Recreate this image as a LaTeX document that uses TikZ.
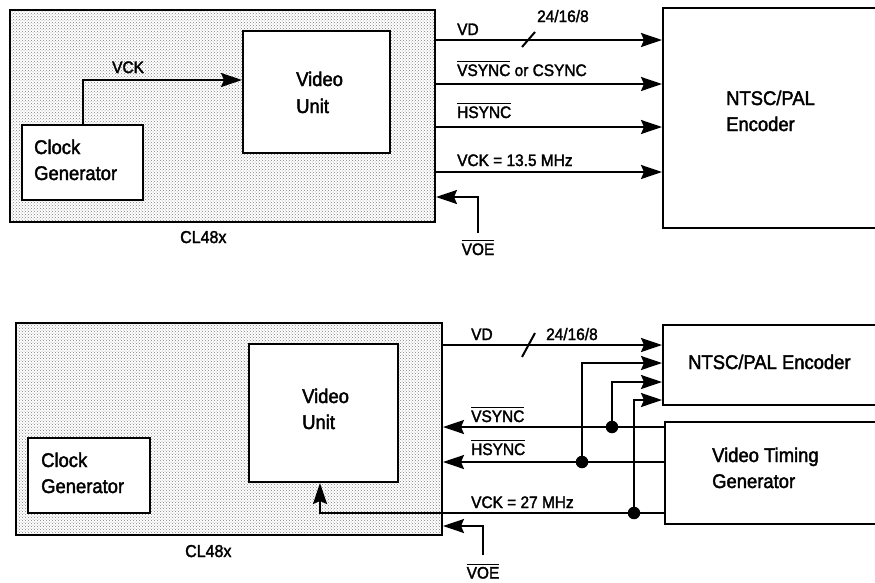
\documentclass[tikz,border=0pt]{standalone}
\usepackage{fontspec}
\setmainfont[FakeBold=2,FakeStretch=0.93]{Liberation Sans}
\usetikzlibrary{arrows.meta,patterns}
\newcommand\ovl[1]{\leavevmode\setbox0\hbox{#1}\rlap{\rule[\dimexpr\ht0+2pt\relax]{\wd0}{1.2pt}}\box0\relax}
\begin{document}
\begin{tikzpicture}[x=1pt,y=-1pt,
  blk/.style={draw, line width=2pt, fill=white, anchor=north west, inner sep=0pt},
  chip/.style={draw, line width=2pt, pattern=crosshatch dots, pattern color=black!50, anchor=north west, inner sep=0pt},
  sig/.style={line width=2pt, -{Stealth[length=21pt,width=14pt,inset=3pt]}},
  wire/.style={line width=2pt},
  big/.style={font=\fontsize{19.8}{23}\selectfont, anchor=base west, inner sep=0pt},
  lbl/.style={font=\fontsize{16.6}{19}\selectfont, anchor=base west, inner sep=0pt},
  dot/.style={circle, fill=black, inner sep=0pt, minimum size=12.5pt}]
\useasboundingbox (0,0) rectangle (875,582);

% ---------------- top diagram ----------------
\node[chip, minimum width=425pt, minimum height=212pt] (cl1) at (9,9) {};
\node[blk, minimum width=147pt, minimum height=122pt] (vu1) at (242,30) {};
\node[blk, minimum width=121pt, minimum height=75pt] (cg1) at (21,124) {};
\node[blk, minimum width=220pt, minimum height=220pt] (enc1) at (662,7) {};

\node[big] (vu1a) at (296,86) {Video};
\node[big] (vu1b) at (296,113) {Unit};
\node[big] (cg1a) at (34,154) {Clock};
\node[big] (cg1b) at (34,180) {Generator};
\node[big] (enc1a) at (726,105) {NTSC/PAL};
\node[big] (enc1b) at (726,131) {Encoder};
\node[lbl, font=\fontsize{17.2}{20}\selectfont] (chipl1) at (180,243) {CL48x};

\draw[sig] (cg1.north) |- (vu1.west |- 0,80);
\node[lbl] (vck1) at (112,73) {VCK};

\draw[sig] (cl1.east |- 0,40) -- (enc1.west |- 0,40);
\draw[sig] (cl1.east |- 0,84) -- (enc1.west |- 0,84);
\draw[sig] (cl1.east |- 0,127) -- (enc1.west |- 0,127);
\draw[sig] (cl1.east |- 0,172) -- (enc1.west |- 0,172);
\coordinate (s1a) at (522,47);
\coordinate (s1b) at (535,32);
\draw[wire] (s1a) -- (s1b);
\node[lbl] (vd1) at (457,35) {VD};
\node[lbl] (w1) at (537,22) {24/16/8};
\node[lbl] (vs1) at (457,76) {\ovl{VSYNC} or CSYNC};
\node[lbl] (hs1) at (457,118) {\ovl{HSYNC}};
\node[lbl] (ck1) at (457,166) {VCK = 13.5 MHz};

\coordinate (voe1s) at (478,233);
\draw[sig] (voe1s) |- (cl1.east |- 0,197);
\node[lbl, anchor=base] (voe1) at (478,255) {\ovl{VOE}};

% ---------------- bottom diagram ----------------
\node[chip, minimum width=426pt, minimum height=212pt] (cl2) at (15,322) {};
\node[blk, minimum width=149pt, minimum height=138pt] (vu2) at (248,343) {};
\node[blk, minimum width=122pt, minimum height=75pt] (cg2) at (27,437) {};
\node[blk, minimum width=220pt, minimum height=80pt] (enc2) at (662,324) {};
\node[blk, minimum width=220pt, minimum height=102pt] (vtg) at (664,421) {};

\node[big] (vu2a) at (302,403) {Video};
\node[big] (vu2b) at (302,429) {Unit};
\node[big] (cg2a) at (41,467) {Clock};
\node[big] (cg2b) at (41,493) {Generator};
\node[big] (enc2a) at (688,369) {NTSC/PAL Encoder};
\node[big] (vtga) at (712,462) {Video Timing};
\node[big] (vtgb) at (712,488) {Generator};
\node[lbl, font=\fontsize{17.2}{20}\selectfont] (chipl2) at (185,557) {CL48x};

% VD
\draw[sig] (cl2.east |- 0,345) -- (enc2.west |- 0,345);
\coordinate (s2a) at (522,357);
\coordinate (s2b) at (535,333);
\draw[wire] (s2a) -- (s2b);
\node[lbl] (vd2) at (471,340) {VD};
\node[lbl] (w2) at (546,340) {24/16/8};

% VSYNC
\draw[sig] (vtg.west |- 0,427) -- (cl2.east |- 0,427);
\node[dot] (jv) at (612,427) {};
\draw[sig] (jv.center) |- (enc2.west |- 0,382);
\node[lbl] (vs2) at (471,422) {\ovl{VSYNC}};

% HSYNC
\draw[sig] (vtg.west |- 0,462) -- (cl2.east |- 0,462);
\node[dot] (jh) at (582,462) {};
\draw[sig] (jh.center) |- (enc2.west |- 0,363);
\node[lbl] (hs2) at (471,455) {\ovl{HSYNC}};

% VCK
\draw[sig] (vtg.west |- 0,513) -| (vu2.south -| 320,0);
\node[dot] (jc) at (634,513) {};
\draw[sig] (jc.center) |- (enc2.west |- 0,400);
\node[lbl] (ck2) at (471,508) {VCK = 27 MHz};

% VOE
\coordinate (voe2s) at (483,555);
\draw[sig] (voe2s) |- (cl2.east |- 0,526);
\node[lbl, anchor=base] (voe2) at (483,578.5) {\ovl{VOE}};
\end{tikzpicture}
\end{document}
